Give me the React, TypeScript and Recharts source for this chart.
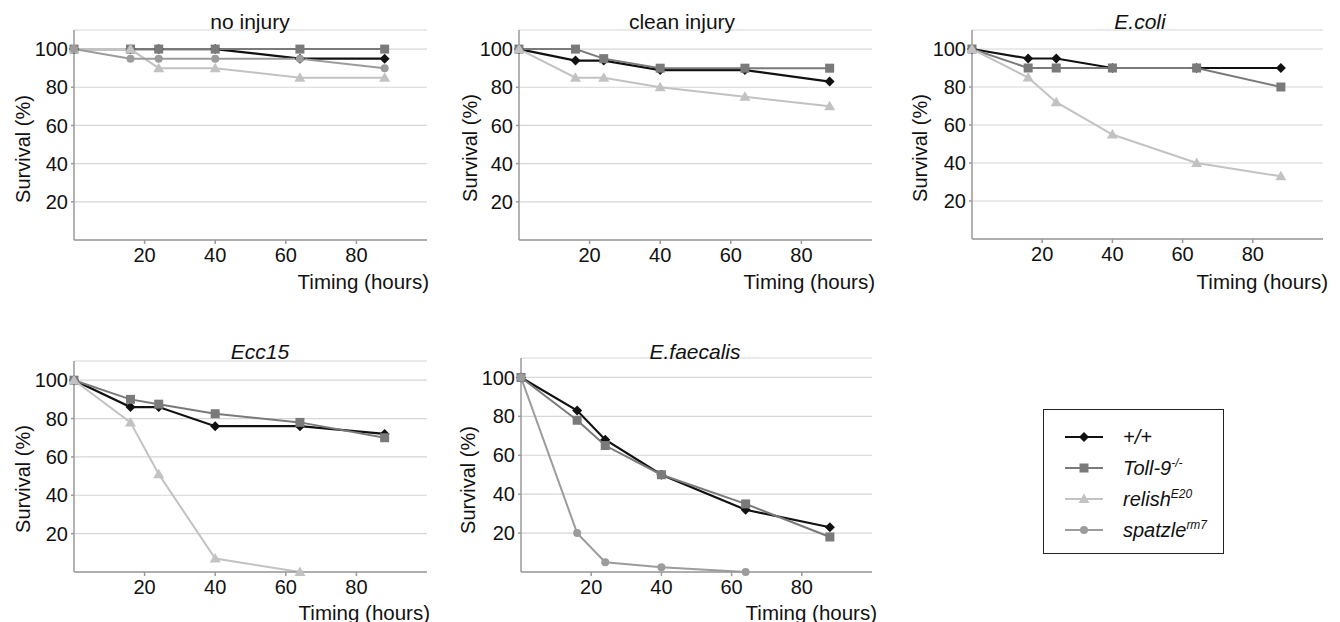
import React from 'react';
import { CartesianGrid, Line, LineChart, XAxis, YAxis } from 'recharts';

// sampling times (hours) shared by every panel
const hours = [0, 16, 24, 40, 64, 88];
const xTicks = [20, 40, 60, 80];
const yTicks = [20, 40, 60, 80, 100];

// survival (%) per condition and genotype
const noInjuryWT = [100, 100, 100, 100, 95, 95];
const noInjuryToll = [100, 100, 100, 100, 100, 100];
const noInjuryRelish = [100, 100, 90, 90, 85, 85];
const noInjurySpz = [100, 95, 95, 95, 95, 90];

const cleanWT = [100, 94, 94, 89, 89, 83];
const cleanToll = [100, 100, 95, 90, 90, 90];
const cleanRelish = [100, 85, 85, 80, 75, 70];

const ecoliWT = [100, 95, 95, 90, 90, 90];
const ecoliToll = [100, 90, 90, 90, 90, 80];
const ecoliRelish = [100, 85, 72, 55, 40, 33];

const eccWT = [100, 86, 86, 76, 76, 72];
const eccToll = [100, 90, 87.5, 82.5, 78, 70];
const eccRelish = [100, 78, 51, 7, 0, null];

const faecWT = [100, 83, 68, 50, 32, 23];
const faecToll = [100, 78, 65, 50, 35, 18];
const faecSpz = [100, 20, 5, 2.5, 0, null];

type Val = number | null;
type Shape = 'diamond' | 'square' | 'triangle' | 'circle';

const FONT = '"Liberation Sans", Arial, Helvetica, sans-serif';
const INK = '#111';
const AXIS = '#9a9a9a';
const GRID = '#d6d6d6';

const SERIES: { key: string; name: string; sup: string; color: string; shape: Shape }[] = [
  { key: 'wt', name: '+/+', sup: '', color: '#111111', shape: 'diamond' },
  { key: 'toll', name: 'Toll-9', sup: '-/-', color: '#7a7a7a', shape: 'square' },
  { key: 'relish', name: 'relish', sup: 'E20', color: '#c2c2c2', shape: 'triangle' },
  { key: 'spz', name: 'spatzle', sup: 'rm7', color: '#9c9c9c', shape: 'circle' },
];

function rows(cols: Record<string, Val[]>) {
  return hours.map((h, i) => {
    const r: Record<string, Val> = { hour: h };
    Object.keys(cols).forEach((k) => (r[k] = cols[k][i]));
    return r;
  });
}

function Marker({ shape, cx, cy, color }: { shape: Shape; cx: number; cy: number; color: string }) {
  if (shape === 'diamond')
    return <polygon points={`${cx},${cy - 5} ${cx + 5},${cy} ${cx},${cy + 5} ${cx - 5},${cy}`} fill={color} />;
  if (shape === 'square') return <rect x={cx - 4.5} y={cy - 4.5} width={9} height={9} fill={color} />;
  if (shape === 'triangle')
    return <polygon points={`${cx},${cy - 5.5} ${cx + 5.5},${cy + 4} ${cx - 5.5},${cy + 4}`} fill={color} />;
  return <circle cx={cx} cy={cy} r={4} fill={color} />;
}

const makeDot = (shape: Shape, color: string) => (p: any) => {
  if (p.cy == null || p.value == null) return <g key={p.key ?? p.index} />;
  return (
    <g key={p.key ?? p.index}>
      <Marker shape={shape} cx={p.cx} cy={p.cy} color={color} />
    </g>
  );
};

interface PanelCfg {
  title: string;
  italic: boolean;
  plotLeft: number;
  plotTop: number;
  plotW: number;
  plotH: number;
  titleX: number;
  titleY: number;
  yLabX: number;
  yLabY: number;
  xLabR: number;
  xLabY: number;
  data: Record<string, Val>[];
  keys: string[];
}

const PANELS: PanelCfg[] = [
  {
    title: 'no injury', italic: false,
    plotLeft: 74, plotTop: 30, plotW: 353, plotH: 210,
    titleX: 250, titleY: 22, yLabX: 23, yLabY: 149, xLabR: 429, xLabY: 282,
    data: rows({ wt: noInjuryWT, toll: noInjuryToll, relish: noInjuryRelish, spz: noInjurySpz }),
    keys: ['wt', 'toll', 'relish', 'spz'],
  },
  {
    title: 'clean injury', italic: false,
    plotLeft: 519, plotTop: 30, plotW: 353, plotH: 210,
    titleX: 682, titleY: 22, yLabX: 470, yLabY: 148, xLabR: 875, xLabY: 282,
    data: rows({ wt: cleanWT, toll: cleanToll, relish: cleanRelish }),
    keys: ['wt', 'toll', 'relish'],
  },
  {
    title: 'E.coli', italic: true,
    plotLeft: 972, plotTop: 30, plotW: 351, plotH: 209,
    titleX: 1140, titleY: 22, yLabX: 920, yLabY: 148, xLabR: 1328, xLabY: 282,
    data: rows({ wt: ecoliWT, toll: ecoliToll, relish: ecoliRelish }),
    keys: ['wt', 'toll', 'relish'],
  },
  {
    title: 'Ecc15', italic: true,
    plotLeft: 74, plotTop: 361, plotW: 353, plotH: 211,
    titleX: 260, titleY: 352, yLabX: 23, yLabY: 479, xLabR: 430, xLabY: 613,
    data: rows({ wt: eccWT, toll: eccToll, relish: eccRelish }),
    keys: ['wt', 'toll', 'relish'],
  },
  {
    title: 'E.faecalis', italic: true,
    plotLeft: 521, plotTop: 358, plotW: 351, plotH: 214,
    titleX: 695, titleY: 352, yLabX: 468, yLabY: 480, xLabR: 877, xLabY: 613,
    data: rows({ wt: faecWT, toll: faecToll, spz: faecSpz }),
    keys: ['wt', 'toll', 'spz'],
  },
];

const Y_W = 60;
const X_H = 30;
const M_TOP = 10;
const M_RIGHT = 12;

function Panel({ cfg }: { cfg: PanelCfg }) {
  const width = Y_W + cfg.plotW + M_RIGHT;
  const height = M_TOP + cfg.plotH + X_H;
  return (
    <>
      <div style={{ position: 'absolute', left: cfg.plotLeft - Y_W, top: cfg.plotTop - M_TOP }}>
        <LineChart width={width} height={height} data={cfg.data} margin={{ top: M_TOP, right: M_RIGHT, left: 0, bottom: 0 }}>
          <CartesianGrid horizontal vertical={false} stroke={GRID} strokeWidth={1.2} />
          <XAxis
            type="number"
            dataKey="hour"
            domain={[0, 100]}
            ticks={xTicks}
            height={X_H}
            stroke={AXIS}
            strokeWidth={1.5}
            tickSize={4}
            tickMargin={4}
            tick={{ fill: INK, fontSize: 20, fontFamily: FONT }}
          />
          <YAxis
            type="number"
            domain={[0, 110]}
            ticks={yTicks}
            width={Y_W}
            stroke={AXIS}
            strokeWidth={1.5}
            tickSize={3}
            tickMargin={3}
            tick={{ fill: INK, fontSize: 20, fontFamily: FONT }}
          />
          {SERIES.filter((s) => cfg.keys.includes(s.key)).map((s) => (
            <Line
              key={s.key}
              type="linear"
              dataKey={s.key}
              stroke={s.color}
              strokeWidth={s.key === 'wt' ? 2.2 : 2}
              dot={makeDot(s.shape, s.color)}
              activeDot={false}
              isAnimationActive={false}
            />
          ))}
        </LineChart>
      </div>
      <div
        style={{
          position: 'absolute', left: cfg.titleX, top: cfg.titleY, transform: 'translate(-50%, -50%)',
          fontSize: 21, fontStyle: cfg.italic ? 'italic' : 'normal', whiteSpace: 'nowrap',
        }}
      >
        {cfg.title}
      </div>
      <div
        style={{
          position: 'absolute', left: cfg.yLabX, top: cfg.yLabY, transform: 'translate(-50%, -50%) rotate(-90deg)',
          fontSize: 20, whiteSpace: 'nowrap',
        }}
      >
        Survival (%)
      </div>
      <div
        style={{
          position: 'absolute', left: cfg.xLabR, top: cfg.xLabY, transform: 'translate(-100%, -50%)',
          fontSize: 20.5, whiteSpace: 'nowrap',
        }}
      >
        Timing (hours)
      </div>
    </>
  );
}

function LegendBox() {
  return (
    <div
      style={{
        position: 'absolute', left: 1043, top: 409, width: 179, height: 143,
        border: '1.5px solid #222', background: '#fff',
      }}
    >
      {SERIES.map((s, i) => (
        <div key={s.key} style={{ position: 'absolute', left: 0, top: 27 + i * 31 - 12, height: 24, width: 179 }}>
          <svg width={44} height={24} style={{ position: 'absolute', left: 20, top: 0 }}>
            <line x1={1} y1={12} x2={39} y2={12} stroke={s.color} strokeWidth={2.2} />
            <Marker shape={s.shape} cx={20} cy={12} color={s.color} />
          </svg>
          <span
            style={{
              position: 'absolute', left: 79, top: 12, transform: 'translateY(-50%)',
              fontSize: 20, fontStyle: 'italic', whiteSpace: 'nowrap', lineHeight: '24px',
            }}
          >
            {s.name}
            {s.sup && <sup style={{ fontSize: 12, verticalAlign: 'super', lineHeight: 0 }}>{s.sup}</sup>}
          </span>
        </div>
      ))}
    </div>
  );
}

export default function App() {
  return (
    <div
      style={{
        position: 'absolute', left: 0, top: 0, width: 1340, height: 622, overflow: 'hidden',
        background: '#fff', fontFamily: FONT, color: INK,
      }}
    >
      {PANELS.map((p) => (
        <Panel key={p.title} cfg={p} />
      ))}
      <LegendBox />
    </div>
  );
}
